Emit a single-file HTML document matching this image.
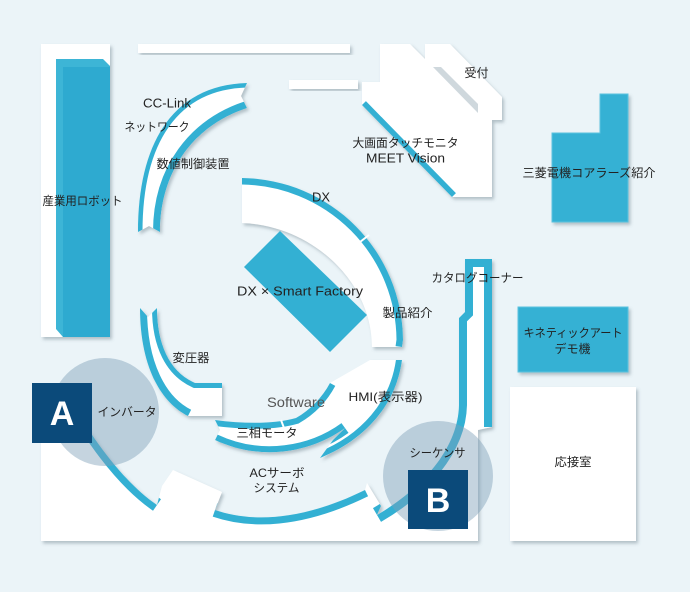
<!DOCTYPE html>
<html><head><meta charset="utf-8">
<style>
html,body{margin:0;padding:0;background:#ebf4f8;}
svg{display:block;}
text{font-family:"Liberation Sans","Noto Sans CJK JP",sans-serif;fill:#222;}
</style></head><body>
<svg width="690" height="592" viewBox="0 0 690 592" xmlns="http://www.w3.org/2000/svg">
<defs>
<filter id="sh" x="-20%" y="-20%" width="140%" height="140%">
<feDropShadow dx="2" dy="2.5" stdDeviation="1.6" flood-color="#5d717d" flood-opacity="0.4"/>
</filter>
<clipPath id="cFloor"><path d="M41,400 L70,400 C88,430 118,478 157,505 L162,486 L173,470 L222,492 L215,510 C250,522 300,522 365,490 L367,483 L381,506 L377,515 C420,490 458,450 459,405 L459,318 L465,312 L465,259 L492,259 L492,427 L478,430 L478,541 L41,541 Z"/></clipPath>
<clipPath id="cCC"><path d="M138,232 C138,140 175,85 247,83 L241,96 L247,108 C195,125 160,170 160,232 L149,226 Z"/></clipPath>
<clipPath id="cDX"><path d="M242,178 A163,163 0 0 1 403,340 L402,347 L372,347 C372,280 310,225 242,223 Z"/></clipPath>
<clipPath id="cHen"><path d="M140,308 L148,317 L157,308 C157,345 170,372 195,383 L222,383 L222,416 L188,416 C160,402 140,365 140,308 Z"/></clipPath>
<clipPath id="cMot"><path d="M215,420 C245,424 275,424 296,418 C310,410 322,398 330,383 L370,360 L402,360 C396,405 365,440 320,458 L333,440 L345,428 C312,452 262,462 215,440 L220,430 Z"/></clipPath>
<clipPath id="cMeet"><path d="M380,44 L410,44 L425,59 L425,44 L450,44 L502,97 L502,120 L492,120 L492,197 L452,197 L362,105 L362,82 L380,82 Z"/></clipPath>
</defs>
<rect width="690" height="592" fill="#ebf4f8"/>

<!-- floor -->
<path filter="url(#sh)" fill="#fff" d="M41,400 L70,400 C88,430 118,478 157,505 L162,486 L173,470 L222,492 L215,510 C250,522 300,522 365,490 L367,483 L381,506 L377,515 C420,490 458,450 459,405 L459,318 L465,312 L465,259 L492,259 L492,427 L478,430 L478,541 L41,541 Z"/>
<g clip-path="url(#cFloor)" fill="none" stroke="#33b0d3">
<path stroke-width="14" d="M70,400 C88,430 118,478 157,505"/>
<path stroke-width="14" d="M215,510 C250,522 300,522 365,490"/>
<path stroke-width="16" d="M377,515 C420,490 458,450 459,405 L459,318 L465,312 L465,259 L492,259 L492,427"/>
</g>

<!-- top bars -->
<rect x="138" y="44" width="212" height="9" fill="#fff" filter="url(#sh)"/>
<rect x="289" y="80" width="69" height="9" fill="#fff" filter="url(#sh)"/>

<!-- robot booth -->
<rect x="41" y="44" width="69" height="293" fill="#fff" filter="url(#sh)"/>
<path d="M56,59 L103,59 L110,66 L110,337 L63,337 L56,329 Z" fill="#3db5d6"/>
<rect x="63" y="67" width="47" height="270" fill="#2eaad0"/>

<!-- CC-Link band -->
<path filter="url(#sh)" fill="#fff" d="M138,232 C138,140 175,85 247,83 L241,96 L247,108 C195,125 160,170 160,232 L149,226 Z"/>
<g clip-path="url(#cCC)" fill="none" stroke="#33b0d3">
<path stroke-width="9" d="M138,232 C138,140 175,85 247,83"/>
<path stroke-width="14" d="M247,108 C195,125 160,170 160,232"/>
</g>

<!-- DX band -->
<path filter="url(#sh)" fill="#fff" d="M242,178 A163,163 0 0 1 403,340 L402,347 L372,347 C372,280 310,225 242,223 Z"/>
<g clip-path="url(#cDX)" fill="none" stroke="#33b0d3">
<path stroke-width="13" d="M242,178 A163,163 0 0 1 403,340 L402,347"/>
</g>
<line x1="360" y1="242" x2="369" y2="235" stroke="#fff" stroke-width="2"/>

<!-- DX x Smart Factory -->
<path d="M280,231 L367,315 L330,352 L244,267 Z" fill="#33b0d3"/>

<!-- henatsuki band -->
<path filter="url(#sh)" fill="#fff" d="M140,308 L148,317 L157,308 C157,345 170,372 195,383 L222,383 L222,416 L188,416 C160,402 140,365 140,308 Z"/>
<g clip-path="url(#cHen)" fill="none" stroke="#33b0d3">
<path stroke-width="14" d="M188,416 C160,402 140,365 140,308"/>
<path stroke-width="10" d="M157,308 C157,345 170,372 195,383 L222,383"/>
</g>

<!-- motor / HMI band -->
<path filter="url(#sh)" fill="#fff" d="M215,420 C245,424 275,424 296,418 C310,410 322,398 330,383 L370,360 L402,360 C396,405 365,440 320,458 L333,440 L345,428 C312,452 262,462 215,440 L220,430 Z"/>
<g clip-path="url(#cMot)" fill="none" stroke="#33b0d3">
<path stroke-width="12" d="M215,420 C245,424 275,424 296,418 C310,410 322,398 330,383"/>
<path stroke-width="12" d="M345,428 C312,452 262,462 215,440"/>
<path stroke-width="12" d="M402,360 C396,405 365,440 320,458"/>
</g>
<line x1="281" y1="420" x2="284" y2="428" stroke="#fff" stroke-width="2"/>

<!-- MEET booth -->
<path filter="url(#sh)" fill="#fff" d="M380,44 L410,44 L425,59 L425,44 L450,44 L502,97 L502,120 L492,120 L492,197 L452,197 L362,105 L362,82 L380,82 Z"/>
<g clip-path="url(#cMeet)" fill="none" stroke="#33b0d3">
<path stroke-width="11" d="M452,197 L362,105"/>
</g>
<path d="M433,67 L441,67 L478,104 L478,113 Z" fill="#cfd8dd"/>

<!-- blue booths -->
<path filter="url(#sh)" d="M552,133 L600,133 L600,94 L628,94 L628,222 L552,222 Z" fill="#34b1d4" stroke="#5cc3df" stroke-width="1"/>
<rect filter="url(#sh)" x="518" y="307" width="110" height="65" fill="#34b1d4" stroke="#5cc3df" stroke-width="1"/>
<rect filter="url(#sh)" x="510" y="387" width="126" height="154" fill="#fff"/>

<!-- circles -->
<circle cx="105" cy="412" r="54" fill="#7f9fb8" fill-opacity="0.45"/>
<circle cx="438" cy="476" r="55" fill="#7f9fb8" fill-opacity="0.45"/>
<rect x="32" y="383" width="60" height="60" fill="#0b4a7a"/>
<rect x="408" y="470" width="60" height="59" fill="#0b4a7a"/>
<text x="62" y="425" text-anchor="middle" font-size="34" font-weight="bold" style="fill:#fff">A</text>
<text x="438" y="512" text-anchor="middle" font-size="34" font-weight="bold" style="fill:#fff">B</text>

<!-- labels -->
<g font-size="12" text-anchor="middle" dominant-baseline="central">
<text x="82.5" y="201" textLength="80" lengthAdjust="spacingAndGlyphs">産業用ロボット</text>
<text x="167" y="103" font-size="13" textLength="48" lengthAdjust="spacingAndGlyphs">CC-Link</text>
<text x="157" y="127" textLength="65" lengthAdjust="spacingAndGlyphs">ネットワーク</text>
<text x="193" y="164" textLength="73" lengthAdjust="spacingAndGlyphs">数値制御装置</text>
<text x="321" y="197" font-size="13" textLength="18" lengthAdjust="spacingAndGlyphs">DX</text>
<text x="300" y="291" font-size="13" textLength="126" lengthAdjust="spacingAndGlyphs">DX × Smart Factory</text>
<text x="407.5" y="313" textLength="50" lengthAdjust="spacingAndGlyphs">製品紹介</text>
<text x="477.5" y="278" textLength="92" lengthAdjust="spacingAndGlyphs">カタログコーナー</text>
<text x="476.5" y="73" textLength="24" lengthAdjust="spacingAndGlyphs">受付</text>
<text x="405.5" y="143" textLength="106" lengthAdjust="spacingAndGlyphs">大画面タッチモニタ</text>
<text x="405.5" y="158" font-size="13" textLength="79" lengthAdjust="spacingAndGlyphs">MEET Vision</text>
<text x="589" y="173" textLength="133" lengthAdjust="spacingAndGlyphs">三菱電機コアラーズ紹介</text>
<text x="573" y="333" textLength="99" lengthAdjust="spacingAndGlyphs">キネティックアート</text>
<text x="572.5" y="349" textLength="36" lengthAdjust="spacingAndGlyphs">デモ機</text>
<text x="573" y="462" textLength="37" lengthAdjust="spacingAndGlyphs">応接室</text>
<text x="191" y="358" textLength="37" lengthAdjust="spacingAndGlyphs">変圧器</text>
<text x="127" y="412" textLength="59" lengthAdjust="spacingAndGlyphs">インバータ</text>
<text x="296" y="402" font-size="14" textLength="58" lengthAdjust="spacingAndGlyphs" style="fill:#555">Software</text>
<text x="385.5" y="397" textLength="74" lengthAdjust="spacingAndGlyphs">HMI(表示器)</text>
<text x="267" y="433" textLength="61" lengthAdjust="spacingAndGlyphs">三相モータ</text>
<text x="277" y="473" textLength="55" lengthAdjust="spacingAndGlyphs">ACサーボ</text>
<text x="276.5" y="488" textLength="46" lengthAdjust="spacingAndGlyphs">システム</text>
<text x="437.5" y="453" textLength="56" lengthAdjust="spacingAndGlyphs">シーケンサ</text>
</g>
</svg>
</body></html>
